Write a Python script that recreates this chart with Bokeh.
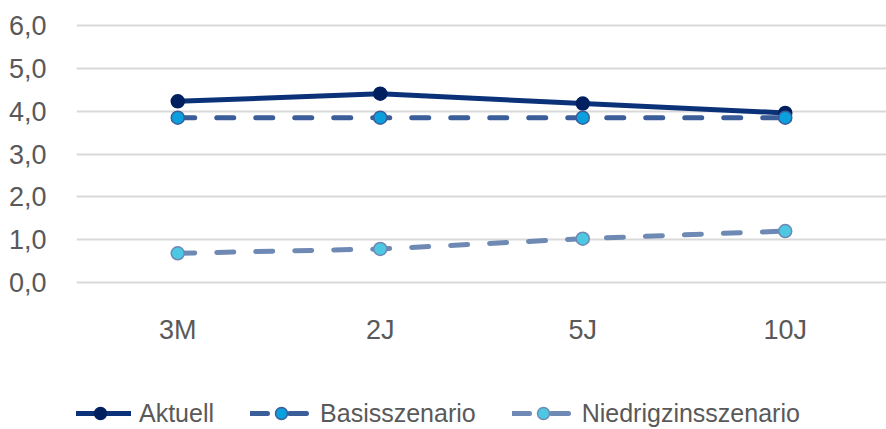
from bokeh.plotting import figure
from bokeh.layouts import column
from bokeh.models import Range1d, FactorRange, Legend, LegendItem, FixedTicker, CustomJSTickFormatter
from bokeh.embed import file_html
from bokeh.resources import INLINE

# Laufzeiten und Renditen (%)
maturities = ["3M", "2J", "5J", "10J"]
aktuell = [4.23, 4.41, 4.18, 3.96]
basisszenario = [3.85, 3.85, 3.85, 3.85]
niedrigzinsszenario = [0.68, 0.78, 1.02, 1.20]
y_ticks = [0, 1, 2, 3, 4, 5, 6]
series_names = ["Aktuell", "Basisszenario", "Niedrigzinsszenario"]

FONT = "Liberation Sans"
TEXT_COLOR = "#595959"

# Linien- und Markerstile je Serie
styles = [
    dict(line=dict(line_color="#0b3278", line_width=5, line_cap="round", line_join="round"),
         marker=dict(size=13, fill_color="#002060", line_color="#002060", line_width=1.5)),
    dict(line=dict(line_color="#3b5e9a", line_width=5, line_dash="17 22", line_cap="round"),
         marker=dict(size=13, fill_color="#0aa0de", line_color="#3b5e9a", line_width=1.5)),
    dict(line=dict(line_color="#6f89b5", line_width=5, line_dash="17 22", line_cap="round"),
         marker=dict(size=13, fill_color="#4cc8e2", line_color="#6f89b5", line_width=1.5)),
]
all_series = [aktuell, basisszenario, niedrigzinsszenario]

p = figure(
    width=886, height=350,
    x_range=FactorRange(*maturities),
    y_range=Range1d(-0.05, 6.05),
    output_backend="svg", toolbar_location=None,
    min_border_left=76, min_border_right=0, min_border_top=23, min_border_bottom=66,
    background_fill_color="white", border_fill_color="white",
)
p.outline_line_color = None

# Achsen
for ax in (p.xaxis, p.yaxis):
    ax.axis_line_color = None
    ax.major_tick_line_color = None
    ax.minor_tick_line_color = None
    ax.major_label_text_font = FONT
    ax.major_label_text_font_size = "27px"
    ax.major_label_text_color = TEXT_COLOR
p.xaxis.major_label_standoff = 24
p.yaxis.major_label_standoff = 24
p.yaxis.ticker = FixedTicker(ticks=y_ticks)
p.yaxis.formatter = CustomJSTickFormatter(code="return tick.toFixed(1).replace('.', ',');")

p.xgrid.grid_line_color = None
p.ygrid.grid_line_color = "#d9d9d9"
p.ygrid.grid_line_width = 2
p.ygrid.ticker = FixedTicker(ticks=y_ticks)

for values, st in zip(all_series, styles):
    p.line(maturities, values, **st["line"])
    p.scatter(maturities, values, **st["marker"])

# Legende unterhalb des Diagramms (eigener Streifen; die Serien liegen dort außerhalb des sichtbaren Bereichs)
leg_fig = figure(
    width=886, height=79,
    x_range=FactorRange(*maturities), y_range=Range1d(100, 101),
    x_axis_location=None, y_axis_location=None,
    output_backend="svg", toolbar_location=None,
    min_border=0, background_fill_color="white", border_fill_color="white",
)
leg_fig.outline_line_color = None
leg_fig.grid.visible = False

items = []
for name, values, st in zip(series_names, all_series, styles):
    r_line = leg_fig.line(maturities, values, **st["line"])
    r_mark = leg_fig.scatter(maturities, values, **st["marker"])
    items.append(LegendItem(label=name, renderers=[r_line, r_mark]))

legend = Legend(
    items=items,
    orientation="horizontal",
    location=(-7, 1),
    glyph_width=62, glyph_height=30,
    label_standoff=8, spacing=36, padding=0, margin=0,
    label_text_font=FONT, label_text_font_size="25px", label_text_color=TEXT_COLOR,
    border_line_color=None, background_fill_alpha=0,
)
leg_fig.add_layout(legend, "center")

layout = column(p, leg_fig, spacing=0)
open("out.html", "w").write(file_html(layout, INLINE))
